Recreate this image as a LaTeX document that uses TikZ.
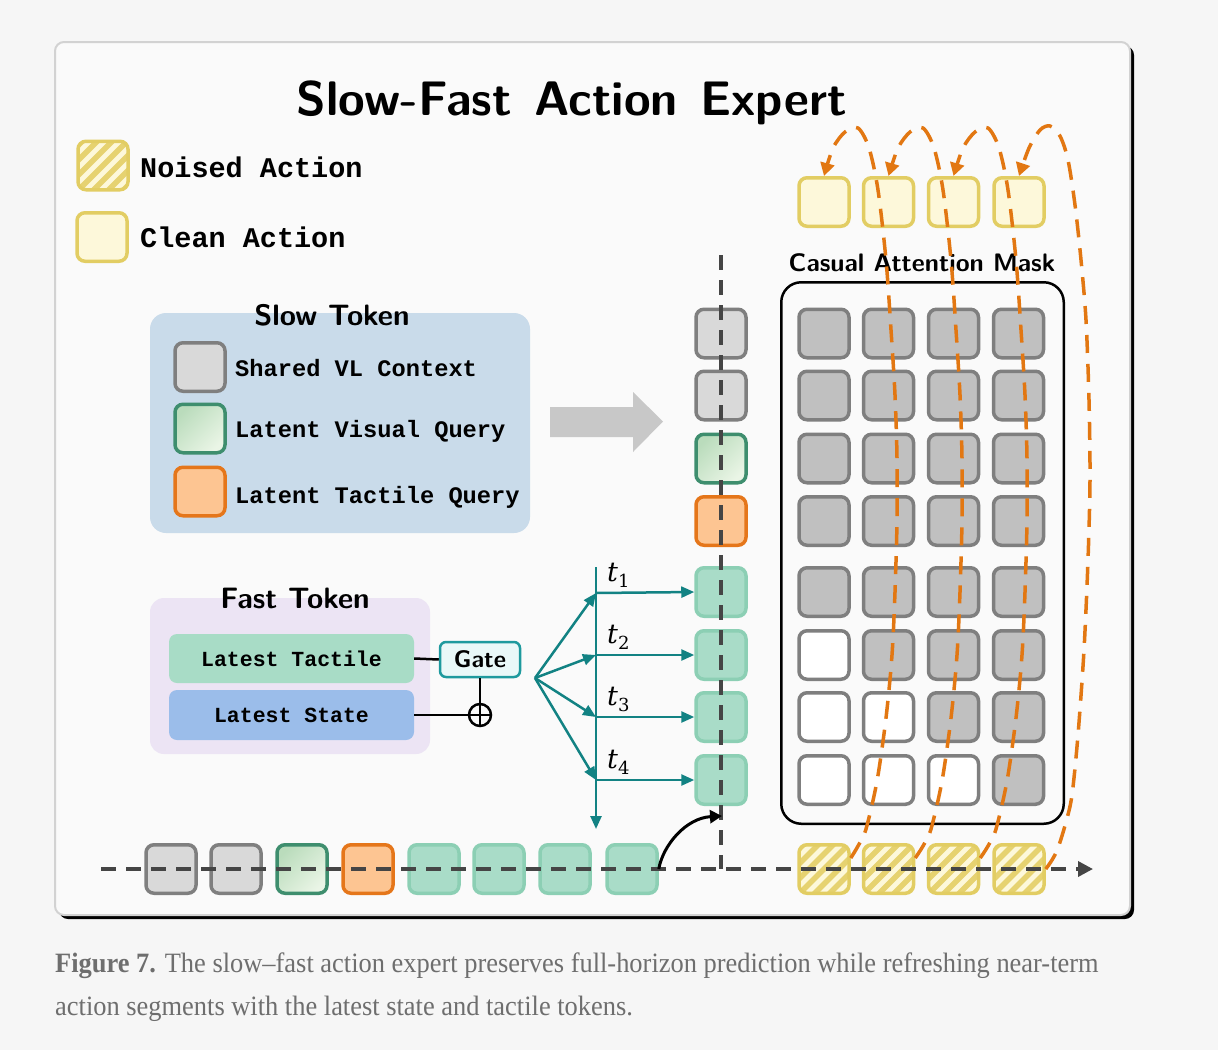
\documentclass[tikz,border=0pt]{standalone}
\usepackage{fontspec}
\setsansfont{Latin Modern Sans}
\newfontfamily\monob{Liberation Mono}
\newfontfamily\tfont{DejaVu Serif}
\newfontfamily\capfont[FakeStretch=0.944]{Liberation Serif}
\usetikzlibrary{arrows.meta,calc}
\definecolor{pagebg}{HTML}{F6F6F6}
\definecolor{framebg}{HTML}{FAFAFA}
\definecolor{frameln}{HTML}{D2D2D2}
\definecolor{tokgray}{HTML}{D9D9D9}
\definecolor{tokgrayln}{HTML}{7F7F7F}
\definecolor{visA}{HTML}{BADCBC}
\definecolor{visB}{HTML}{EAF5E6}
\definecolor{visln}{HTML}{3E8E6E}
\definecolor{orfill}{HTML}{FDC592}
\definecolor{orln}{HTML}{E5761A}
\definecolor{tealfill}{HTML}{A9DCC8}
\definecolor{tealln}{HTML}{8CCFB4}
\definecolor{yelfill}{HTML}{FDF8DA}
\definecolor{yelln}{HTML}{E2CD63}
\definecolor{yelstripe}{HTML}{E6D270}
\definecolor{cellgray}{HTML}{C0C0C0}
\definecolor{slowbg}{HTML}{C9DBEA}
\definecolor{fastbg}{HTML}{ECE4F4}
\definecolor{tactbg}{HTML}{A8DCC6}
\definecolor{statebg}{HTML}{9BBDEA}
\definecolor{gateln}{HTML}{1E9A9E}
\definecolor{gatebg}{HTML}{E9F8F8}
\definecolor{fanteal}{HTML}{128283}
\definecolor{dashgray}{HTML}{454545}
\definecolor{arrowgray}{HTML}{C8C8C8}
\definecolor{orarrow}{HTML}{E27712}
\definecolor{captxt}{HTML}{6E6E6E}
\newcommand{\tsub}[1]{{\tfont\itshape t}\raisebox{-6pt}{\tfont\fontsize{18}{20}\selectfont #1}}
\tikzset{
  tok/.style={draw, line width=3.5pt, rounded corners=8pt, minimum width=50pt, minimum height=48.5pt, inner sep=0pt},
  graytok/.style={tok, fill=tokgray, draw=tokgrayln},
  vistok/.style={tok, draw=visln, top color=visA, bottom color=visB, shading angle=45},
  ortok/.style={tok, fill=orfill, draw=orln},
  tealtok/.style={tok, fill=tealfill, draw=tealln},
  cleantok/.style={tok, fill=yelfill, draw=yelln},
  noisytok/.style={tok, fill=yelfill, draw=yelln, path picture={
      \foreach \k in {-75,-60,...,75}
        \draw[yelstripe, line width=5.5pt] ([xshift=\k pt]path picture bounding box.center) ++(-45pt,-45pt) -- ++(90pt,90pt);}},
  cellg/.style={tok, fill=cellgray, draw=tokgrayln},
  cellw/.style={tok, fill=white, draw=tokgrayln},
  lbl/.style={inner sep=0pt, anchor=base west},
  monobig/.style={font=\monob\bfseries\fontsize{28.5}{30}\selectfont},
  monomid/.style={font=\monob\bfseries\fontsize{23.7}{26}\selectfont},
  monosml/.style={font=\monob\bfseries\fontsize{21.5}{24}\selectfont},
  sanshead/.style={font=\sffamily\bfseries\fontsize{29.5}{34}\selectfont, inner sep=0pt, anchor=base},
  axisdash/.style={draw=dashgray, line width=3.5pt, dash pattern=on 15pt off 10pt},
  orcurve/.style={draw=orarrow, line width=3.5pt, dash pattern=on 18pt off 11pt, -{Triangle[length=13pt,width=14pt]}},
  tealarr/.style={draw=fanteal, line width=2.5pt, -{Triangle[length=13pt,width=11pt]}},
  blk/.style={draw=black, line width=2.5pt},
  tlabel/.style={inner sep=0pt, anchor=base west, font=\fontsize{27}{30}\selectfont},
}
\begin{document}
\begin{tikzpicture}[x=1pt,y=-1pt]
\useasboundingbox (0,0) rectangle (1218,1050);
\fill[pagebg] (0,0) rectangle (1218,1050);
% frame
\fill[black, rounded corners=9pt] (59,46) rectangle (1134,919);
\filldraw[fill=framebg, draw=frameln, line width=2pt, rounded corners=9pt] (55,42) rectangle (1130,915);
% title
\node[inner sep=0pt, anchor=base, font=\sffamily\bfseries\fontsize{48.5}{52}\selectfont] (title) at (572,115) {Slow-Fast\hspace{0.1em} Action\hspace{0.1em} Expert};
% legend
\node[noisytok] (lgn) at (103,165.5) {};
\node[lbl, monobig] (lgnt) at (140,177) {Noised Action};
\node[cleantok] (lgc) at (102,237) {};
\node[lbl, monobig] (lgct) at (140,247) {Clean Action};
% slow token box
\node[fill=slowbg, rounded corners=16pt, minimum width=380pt, minimum height=220pt, inner sep=0pt] (slowbox) at (340,423) {};
\node[sanshead] (slowt) at (332,325) {Slow Token};
\node[graytok] (s1) at (200,367) {};
\node[vistok] (s2) at (200,428.5) {};
\node[ortok] (s3) at (200,491.5) {};
\node[lbl, monomid] (s1t) at (235,376) {Shared VL Context};
\node[lbl, monomid] (s2t) at (235,437) {Latent Visual Query};
\node[lbl, monomid] (s3t) at (235,503) {Latent Tactile Query};
% big gray arrow
\fill[arrowgray] (550,407) -- (633,407) -- (633,392) -- (663,421.5) -- (633,452) -- (633,437) -- (550,437) -- cycle;
% fast token box
\node[fill=fastbg, rounded corners=14pt, minimum width=280pt, minimum height=156pt, inner sep=0pt] (fastbox) at (290,676) {};
\node[sanshead] (fastt) at (295,608) {Fast Token};
\node[fill=tactbg, rounded corners=8pt, minimum width=245pt, minimum height=49pt, inner sep=0pt, monosml] (tact) at (291.5,658.5) {Latest Tactile};
\node[fill=statebg, rounded corners=8pt, minimum width=245pt, minimum height=50pt, inner sep=0pt, monosml] (state) at (291.5,715) {Latest State};
\node[draw=gateln, fill=gatebg, line width=2.5pt, rounded corners=6pt, minimum width=80pt, minimum height=35pt, inner sep=0pt, font=\sffamily\bfseries\fontsize{24}{28}\selectfont] (gate) at (480,659.5) {Gate};
\node[circle, draw=black, line width=2.5pt, minimum size=22pt, inner sep=0pt, path picture={
   \draw[line width=2.5pt] (path picture bounding box.north) -- (path picture bounding box.south);
   \draw[line width=2.5pt] (path picture bounding box.west) -- (path picture bounding box.east);}] (oplus) at (480,715) {};
\draw[blk] (tact.east) -- (gate.west);
\draw[blk] (gate.south) -- (oplus.north);
\draw[blk] (state.east) -- (oplus.west);
% vertical column tokens
\node[graytok] (c1) at (721,333.5) {};
\node[graytok] (c2) at (721,395.5) {};
\node[vistok] (c3) at (721,458.5) {};
\node[ortok] (c4) at (721,521) {};
\node[tealtok] (c5) at (721,592) {};
\node[tealtok] (c6) at (721,655) {};
\node[tealtok] (c7) at (721,717) {};
\node[tealtok] (c8) at (721,780) {};
% bottom row tokens
\node[graytok] (b1) at (171,869) {};
\node[graytok] (b2) at (236,869) {};
\node[vistok] (b3) at (302,869) {};
\node[ortok] (b4) at (368,869) {};
\node[tealtok] (b5) at (434,869) {};
\node[tealtok] (b6) at (499,869) {};
\node[tealtok] (b7) at (565,869) {};
\node[tealtok] (b8) at (632,869) {};
% noised and clean action rows
\foreach \i/\x in {1/824,2/888.5,3/953.5,4/1019}{
  \node[noisytok] (n\i) at (\x,869) {};
  \node[cleantok] (k\i) at (\x,202) {};
}
% mask
\node[inner sep=0pt, anchor=base, font=\sffamily\bfseries\fontsize{25.3}{30}\selectfont] (masklbl) at (922,271) {Casual Attention Mask};
\node[draw=black, line width=2.5pt, rounded corners=20pt, minimum width=282.5pt, minimum height=541.5pt, inner sep=0pt] (mask) at (922.5,553) {};
\foreach \r/\y in {1/333.5,2/395.5,3/458.5,4/521,5/592,6/655,7/717,8/780}{
  \foreach \c/\x in {1/824,2/888.5,3/953.5,4/1018.5}{
    \pgfmathtruncatemacro{\w}{\c <= \r-5 ? 1 : 0}
    \ifnum\w=1 \node[cellw] (g\r\c) at (\x,\y) {};\else\node[cellg] (g\r\c) at (\x,\y) {};\fi
  }
}
% dashed axes
\coordinate (vtop) at (721,255);
\coordinate (vbot) at (721,869);
\coordinate (hstart) at (101,869);
\coordinate (hend) at (1093,869);
\draw[axisdash] (vtop) -- (vbot);
\draw[axisdash, -{Triangle[length=15pt,width=15pt]}] (hstart) -- (hend);
% hook arrow
\coordinate (hk) at (722,816);
\draw[line width=3pt, -{Triangle[length=12pt,width=13pt]}] (b8.east) .. controls (663,845) and (686,818) .. (hk);
% teal fan
\coordinate (fan) at (535,678);
\coordinate (ftop) at (596,567);
\coordinate (fbot) at (596,829);
\draw[tealarr] (ftop) -- (fbot);
\foreach \i/\y/\c in {1/593/c5,2/655/c6,3/717/c7,4/780/c8}{
  \coordinate (p\i) at (596,\y);
  \draw[tealarr] (fan) -- (p\i);
  \draw[tealarr] (p\i) -- (\c.west);
  \node[tlabel] (t\i) at (607,\y-12) {\tsub{\i}};
}
% orange curves
\foreach \i/\d in {1/0,2/65,3/130}{
  \draw[orcurve] plot[smooth] coordinates {([yshift=11pt]n\i.east) ({858+\d},846) ({866+\d},829) ({877+\d},781) ({886+\d},718) ({892+\d},655) ({895+\d},592) ({897+\d},521) ({897+\d},458) ({895+\d},395) ({891+\d},330) ({886+\d},260) ({878+\d},190) ({869+\d},148) ({858+\d},128) ({845+\d},132) ({833+\d},148) (k\i.north)};
}
\draw[orcurve] plot[smooth] coordinates {(n4.east) (1052,860) (1058,848) (1066,822) (1072,795) (1078,735) (1084,650) (1088,560) (1090,480) (1089,400) (1086,320) (1081,260) (1075,205) (1068,160) (1060,136) (1050,126) (1040,130) (1029,148) (k4.north)};
% caption
\node[lbl, text=captxt, font=\capfont\fontsize{28}{30}\selectfont] (cap1) at (55,972) {\textbf{Figure 7.} The slow–fast action expert preserves full-horizon prediction while refreshing near-term};
\node[lbl, text=captxt, font=\capfont\fontsize{28}{30}\selectfont] (cap2) at (55,1015) {action segments with the latest state and tactile tokens.};
\end{tikzpicture}
\end{document}
